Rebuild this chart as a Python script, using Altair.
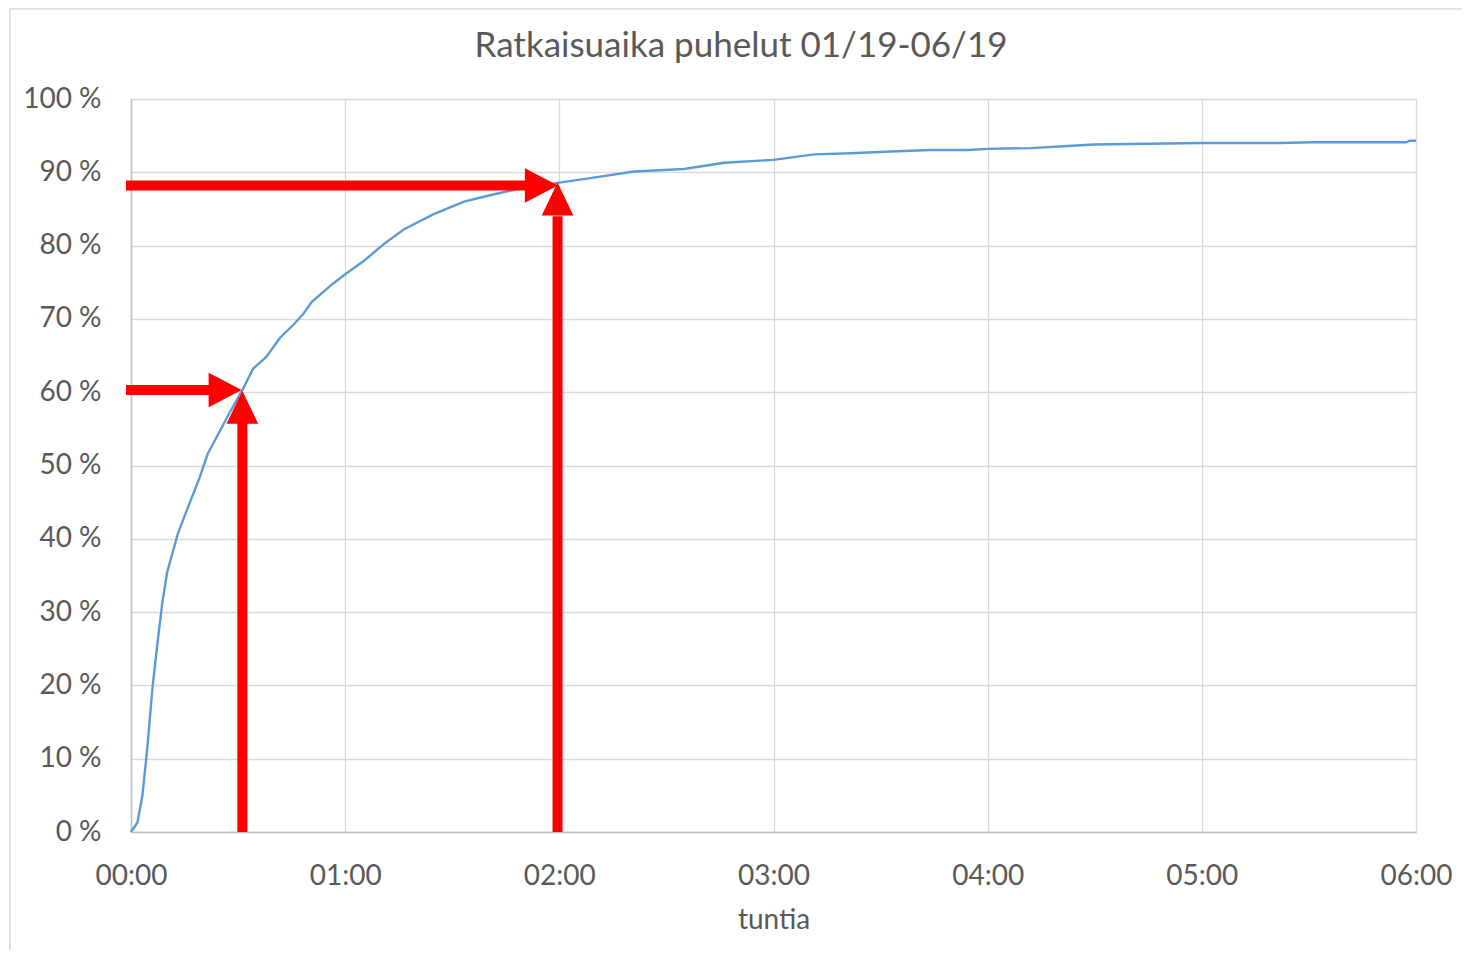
import altair as alt
import pandas as pd

# Curve: resolution time (minutes) vs cumulative share (%)
minutes = [0, 1.8, 3.2, 4.6, 6.0, 7.4, 8.8, 10.2, 11.6, 13.0, 15.4, 19.2, 21.5, 24.8,
           27.6, 30.9, 34.2, 37.9, 41.7, 45.5, 48.3, 50.6, 56.3, 60, 65.2, 70.8, 76.4,
           84.8, 93.3, 101.7, 108.3, 120, 128.7, 140.9, 154.9, 166.2, 180, 191.4, 201.7,
           211, 224, 234.3, 240, 252, 261.3, 269.7, 300, 321.9, 331.2, 357.3, 358.2, 360]
share = [0, 1.3, 5, 11.6, 19.6, 25.7, 31.4, 35.6, 38, 40.5, 43.6, 48.3, 51.6, 54.6,
         57.2, 60, 63.2, 64.8, 67.4, 69.2, 70.7, 72.3, 74.7, 76.1, 77.9, 80.2, 82.2,
         84.3, 86, 87, 87.7, 88.6, 89.2, 90.1, 90.45, 91.3, 91.7, 92.45, 92.6,
         92.8, 93.05, 93.05, 93.2, 93.3, 93.55, 93.8, 94.0, 94.0, 94.1, 94.1, 94.3, 94.3]

x_ticks = [0, 60, 120, 180, 240, 300, 360]
y_ticks = [0, 10, 20, 30, 40, 50, 60, 70, 80, 90, 100]

# Red annotation arrows: shafts and head tips
shaft_x = [-1.4, 119.5, -1.4, 31.2]
shaft_x2 = [110.4, 119.5, 22.0, 31.2]
shaft_y = [88.2, 0, 60.3, 0]
shaft_y2 = [88.2, 84.0, 60.3, 55.8]

head_right_x = [119.6, 31.0]
head_right_y = [88.2, 60.3]
head_up_x = [119.5, 31.2]
head_up_y = [88.6, 60.2]

title_text = ["Ratkaisuaika puhelut 01/19-06/19"]

TEXT = "#595959"
FONT = "Lato"

curve = pd.DataFrame({"t": minutes, "p": share})
shafts = pd.DataFrame({"x": shaft_x, "x2": shaft_x2, "y": shaft_y, "y2": shaft_y2})
heads_r = pd.DataFrame({"x": head_right_x, "y": head_right_y})
heads_u = pd.DataFrame({"x": head_up_x, "y": head_up_y})

xscale = alt.Scale(domain=[0, 360], nice=False, zero=False)
yscale = alt.Scale(domain=[0, 100], nice=False)

x_axis = alt.Axis(
    values=x_ticks, title="tuntia", grid=True, ticks=False,
    labelExpr="(floor(datum.value/60) < 10 ? '0' : '') + floor(datum.value/60) + ':00'",
    labelPadding=30, titlePadding=16, labelFlush=False,
)
y_axis = alt.Axis(
    values=y_ticks, title=None, grid=True, ticks=False,
    labelExpr="datum.value + ' %'", labelPadding=30,
)

border = alt.Chart(pd.DataFrame({"a": [0]})).mark_rect(
    fill=None, stroke="#d9d9d9", strokeWidth=1.5, clip=False
).encode(
    x=alt.value(-121), x2=alt.value(1400), y=alt.value(-90), y2=alt.value(900)
)

title = alt.Chart(pd.DataFrame({"t": title_text})).mark_text(
    font=FONT, fontSize=35, color=TEXT, align="center", baseline="alphabetic", clip=False
).encode(text="t:N", x=alt.value(610), y=alt.value(-42))

line = alt.Chart(curve).mark_line(color="#5b9bd5", strokeWidth=2.4).encode(
    x=alt.X("t:Q", scale=xscale, axis=x_axis),
    y=alt.Y("p:Q", scale=yscale, axis=y_axis),
)

rules = alt.Chart(shafts).mark_rule(color="#ff0000", strokeWidth=10, strokeCap="butt", clip=False).encode(
    x=alt.X("x:Q", scale=xscale), x2="x2:Q",
    y=alt.Y("y:Q", scale=yscale), y2="y2:Q",
)

head_r = alt.Chart(heads_r).mark_point(
    shape="M-1,-0.52L0,0L-1,0.52Z", filled=True, color="#ff0000", opacity=1, size=4356, clip=False
).encode(x=alt.X("x:Q", scale=xscale), y=alt.Y("y:Q", scale=yscale))

head_u = alt.Chart(heads_u).mark_point(
    shape="M-0.48,1L0,0L0.48,1Z", filled=True, color="#ff0000", opacity=1, size=4356, clip=False
).encode(x=alt.X("x:Q", scale=xscale), y=alt.Y("y:Q", scale=yscale))

chart = alt.layer(border, title, line, rules, head_r, head_u).properties(
    width=1285, height=733,
    autosize=alt.AutoSizeParams(type="none"),
    padding={"left": 123, "top": 91, "right": 46, "bottom": 118},
).configure_view(strokeWidth=0).configure_axis(
    labelFont=FONT, labelFontSize=28, labelColor=TEXT,
    titleFont=FONT, titleFontSize=28, titleColor=TEXT, titleFontWeight="normal",
    gridColor="#d9d9d9", gridWidth=1.3, domainColor="#bfbfbf", domainWidth=1.5,
)

chart.save("out.html", embed_options={"renderer": "svg", "actions": False})
